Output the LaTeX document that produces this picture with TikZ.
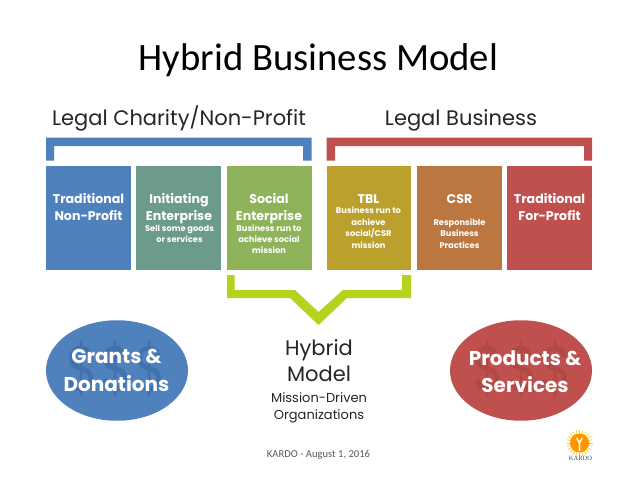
\documentclass[tikz,border=0pt]{standalone}
\usepackage{fontspec}
\setmainfont{Poppins}
\newfontfamily\calib{Carlito}
\newfontfamily\serifl{Liberation Serif}
\usetikzlibrary{shapes.geometric}
\definecolor{cblue}{HTML}{4F81BD}
\definecolor{cteal}{HTML}{6C9A8B}
\definecolor{cgreen}{HTML}{8FB35B}
\definecolor{cgold}{HTML}{BBA02E}
\definecolor{corange}{HTML}{BC7740}
\definecolor{cred}{HTML}{C0504D}
\definecolor{clime}{HTML}{B5D31E}
\definecolor{dblue}{HTML}{4272AE}
\definecolor{dred}{HTML}{B04846}
\newcommand{\hd}{\fontsize{12.6}{17}\selectfont\bfseries}
\newcommand{\sm}{\fontsize{8.3}{11}\selectfont\bfseries}
\tikzset{
  x=1pt,y=-1pt,
  tile/.style={draw=none,minimum width=85pt,minimum height=103.5pt,inner sep=0pt,anchor=north west},
  hdtext/.style={inner sep=0pt,anchor=base,text=white,font=\hd},
  smtext/.style={inner sep=0pt,anchor=base,text=white,font=\sm},
  heading/.style={inner sep=0pt,anchor=base,font=\fontsize{21}{25}\selectfont,text=black!85},
  ovaltext/.style={inner sep=0pt,anchor=base,text=white,font=\fontsize{20}{27.5}\selectfont\bfseries},
  hybridtext/.style={inner sep=0pt,anchor=base,font=\fontsize{21}{26}\selectfont,text=black!85},
  missiontext/.style={inner sep=0pt,anchor=base,font=\fontsize{13}{17}\selectfont,text=black!85},
  dollar/.style={inner sep=0pt,xscale=0.8,font=\fontsize{64}{64}\selectfont},
  oval/.style={ellipse,minimum width=142pt,minimum height=100.5pt,inner sep=0pt}
}
\begin{document}
\begin{tikzpicture}
\useasboundingbox (0,0) rectangle (638,479);
\fill[white] (0,0) rectangle (638,479);
\node[inner sep=0pt,font=\calib\fontsize{38.7}{44}\selectfont,text=black] (title) at (318.5,60.5) {Hybrid Business Model};
\node[heading] (legalc) at (179,125.5) {Legal Charity/Non-Profit};
\node[heading] (legalb) at (461,125.5) {Legal Business};
% brackets
\fill[cblue] (46,160.5)--(46,137.5)--(311.5,137.5)--(311.5,160.5)--(303,160.5)--(303,146)--(54,146)--(54,160.5)--cycle;
\fill[cred] (326.5,160.5)--(326.5,137.5)--(592,137.5)--(592,160.5)--(584,160.5)--(584,146)--(335,146)--(335,160.5)--cycle;
% tiles
\node[tile,fill=cblue] (t1) at (46,166) {};
\node[tile,fill=cteal] (t2) at (136,166) {};
\node[tile,fill=cgreen,minimum width=84.5pt] (t3) at (227,166) {};
\node[tile,fill=cgold,minimum width=84.5pt] (t4) at (326.5,166) {};
\node[tile,fill=corange] (t5) at (417,166) {};
\node[tile,fill=cred] (t6) at (507,166) {};
% tile 1
\node[hdtext] (l1a) at (88.5,203) {Traditional};
\node[hdtext] (l1b) at (88.5,220) {Non-Profit};
% tile 2
\node[hdtext] (l2a) at (179,203) {Initiating};
\node[hdtext] (l2b) at (179,220) {Enterprise};
\node[smtext] (l2c) at (179.5,231.5) {Sell some goods};
\node[smtext] (l2d) at (179.5,242.5) {or services};
% tile 3
\node[hdtext] (l3a) at (269,203) {Social};
\node[hdtext] (l3b) at (269,220) {Enterprise};
\node[smtext] (l3c) at (269,231) {Business run to};
\node[smtext] (l3d) at (269,242.3) {achieve social};
\node[smtext] (l3e) at (269,253.6) {mission};
% tile 4
\node[hdtext] (l4a) at (368.5,203) {TBL};
\node[smtext] (l4b) at (368.5,213.5) {Business run to};
\node[smtext] (l4c) at (368.5,225.5) {achieve};
\node[smtext] (l4d) at (368.5,236.7) {social/CSR};
\node[smtext] (l4e) at (368.5,248) {mission};
% tile 5
\node[hdtext] (l5a) at (459.5,203) {CSR};
\node[smtext] (l5b) at (459.5,225.5) {Responsible};
\node[smtext] (l5c) at (459.5,236.7) {Business};
\node[smtext] (l5d) at (459.5,248) {Practices};
% tile 6
\node[hdtext] (l6a) at (549.5,203) {Traditional};
\node[hdtext] (l6b) at (549.5,220) {For-Profit};
% green brace
\fill[clime] (227,275)--(234.5,275)--(234.5,290)--(295,290)--(318.5,312)--(343,290)--(402,290)--(402,275)--(411,275)--(411,298)--(347,298)--(318.5,325)--(290,298)--(227,298)--cycle;
% ovals
\node[oval,fill=cblue] (o1) at (117,370.5) {};
\node[oval,fill=cred] (o2) at (521,370.5) {};
\foreach \px/\nm in {82/a,116/b,150/c}
  \node[dollar,text=dblue] (da\nm) at (\px,369) {\$};
\foreach \px/\nm in {488/a,522/b,556/c}
  \node[dollar,text=dred] (db\nm) at (\px,369) {\$};
\node[ovaltext] (ot1a) at (116.5,363.5) {Grants \&};
\node[ovaltext] (ot1b) at (116.5,391) {Donations};
\node[ovaltext] (ot2a) at (525,365) {Products \&};
\node[ovaltext] (ot2b) at (525,392) {Services};
% centre
\node[hybridtext] (hm1) at (319,355) {Hybrid};
\node[hybridtext] (hm2) at (319,381) {Model};
\node[missiontext] (md1) at (319,402) {Mission-Driven};
\node[missiontext] (md2) at (319,419) {Organizations};
\node[inner sep=0pt,font=\calib\fontsize{10.6}{13}\selectfont,text=black!65] (foot) at (318.5,455) {KARDO - August 1, 2016};
% logo
\foreach \a in {0,15,...,345}
  \draw[orange!45!yellow,line width=.6pt] (579.5+6*cos \a,443+6*sin \a)--(579.5+13*cos \a,443+13*sin \a);
\fill[orange!85!yellow] (579.5,443) circle (9.5);
\fill[white!75!yellow] (578.7,451)--(580.3,451)--(580.3,443)--(583,438)--(582,437.5)--(579.5,441)--(577,437.5)--(576,438)--(578.7,443)--cycle;
\node[inner sep=0pt,font=\serifl\fontsize{6.5}{7}\selectfont,text=dblue!70!black] (logo) at (580.5,458) {KARDO};
\end{tikzpicture}
\end{document}
